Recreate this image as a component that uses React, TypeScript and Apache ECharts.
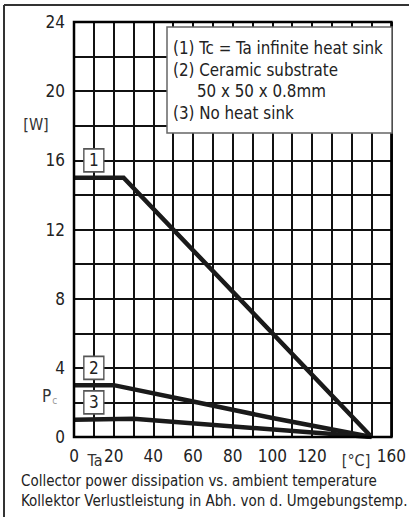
import React, { useEffect, useRef } from "react";
import * as echarts from "echarts";

// ---- data ----
const xTicks = [0, 20, 40, 60, 80, 100, 120, 160];
const yTicks = [0, 4, 8, 12, 16, 20, 24];
const curve1T = [0, 25, 150];
const curve1P = [15, 15, 0];
const curve2T = [0, 20, 60, 100, 150];
const curve2P = [3, 3, 2.05, 1.1, 0];
const curve3T = [0, 30, 150];
const curve3P = [1.0, 1.05, 0];
const markerNames = ["1", "2", "3"];
const markerT = [10, 10, 10];
const markerP = [16, 4, 2];
const legendLines = [
  "(1) Tc = Ta infinite heat sink",
  "(2) Ceramic substrate",
  "     50 x 50 x 0.8mm",
  "(3) No heat sink",
];
const captionLines = [
  "Collector power dissipation vs. ambient temperature",
  "Kollektor Verlustleistung in Abh. von d. Umgebungstemp.",
];

const FONT = '"DejaVu Sans Condensed", "DejaVu Sans", sans-serif';
const INK = "#111111";

function pairs(xs: number[], ys: number[]) {
  return xs.map((x, i) => [x, ys[i]]);
}

export default function App() {
  const ref = useRef<HTMLDivElement>(null);
  useEffect(() => {
    if (!ref.current) return;
    const chart = echarts.init(ref.current, undefined, { renderer: "svg" });
    const lineSeries = (d: number[][]) => ({
      type: "line",
      data: d,
      showSymbol: false,
      symbol: "none",
      lineStyle: { color: "#1a1a1a", width: 4.5, join: "miter" },
      z: 3,
    });
    chart.setOption({
      animation: false,
      backgroundColor: "#ffffff",
      textStyle: { fontFamily: FONT },
      grid: {
        left: 74,
        right: 12,
        top: 22,
        bottom: 80,
        show: true,
        borderColor: "#000",
        borderWidth: 2.5,
        backgroundColor: "transparent",
        z: 4,
      },
      xAxis: {
        type: "value",
        min: 0,
        max: 160,
        interval: 10,
        axisLine: { show: false },
        axisTick: { show: false },
        splitLine: { show: true, lineStyle: { color: INK, width: 2 } },
        axisLabel: {
          margin: 10,
          fontSize: 17,
          color: "#222",
          fontFamily: FONT,
          formatter: (v: number) => (xTicks.includes(v) ? String(v) : ""),
        },
      },
      yAxis: {
        type: "value",
        min: 0,
        max: 24,
        interval: 2,
        axisLine: { show: false },
        axisTick: { show: false },
        splitLine: { show: true, lineStyle: { color: INK, width: 2 } },
        axisLabel: {
          margin: 9,
          fontSize: 17,
          color: "#222",
          fontFamily: FONT,
          formatter: (v: number) => (yTicks.includes(v) ? String(v) : ""),
        },
      },
      series: [
        lineSeries(pairs(curve1T, curve1P)),
        lineSeries(pairs(curve2T, curve2P)),
        lineSeries(pairs(curve3T, curve3P)),
        {
          type: "scatter",
          data: markerNames.map((n, i) => ({ name: n, value: [markerT[i], markerP[i]] })),
          symbol: "rect",
          symbolSize: [20, 23],
          itemStyle: { color: "#fff", borderColor: "#555", borderWidth: 1.5, opacity: 1 },
          label: {
            show: true,
            position: "inside",
            formatter: (p: any) => p.name,
            fontSize: 17,
            color: "#222",
            fontFamily: FONT,
          },
          z: 6,
        },
      ],
      graphic: [
        // outer frame (top & left)
        { type: "line", z: 100, shape: { x1: 4, y1: 5, x2: 409, y2: 5 }, style: { stroke: "#333", lineWidth: 2 } },
        { type: "line", z: 100, shape: { x1: 4, y1: 5, x2: 4, y2: 517 }, style: { stroke: "#333", lineWidth: 2 } },
        // legend box
        {
          type: "rect",
          z: 100,
          shape: { x: 167, y: 27, width: 225, height: 106 },
          style: { fill: "#fff", stroke: "#666", lineWidth: 1.5 },
        },
        ...legendLines.map((t, i) => ({
          type: "text",
          z: 101,
          x: 173,
          y: 48 + i * 21.7,
          style: {
            text: t,
            fontSize: 16.8,
            fontFamily: FONT,
            fill: "#222",
            verticalAlign: "middle",
          },
        })),
        // axis unit labels
        {
          type: "text",
          z: 100,
          x: 36,
          y: 124,
          style: { text: "[W]", fontSize: 16, fontFamily: FONT, fill: "#333", align: "center", verticalAlign: "middle" },
        },
        {
          type: "text",
          z: 100,
          x: 42,
          y: 396,
          style: {
            text: "{p|P}{c|c}",
            fontFamily: FONT,
            verticalAlign: "middle",
            rich: {
              p: { fontSize: 17, fill: "#333", fontFamily: FONT },
              c: { fontSize: 10, fill: "#999", fontFamily: FONT, padding: [8, 0, 0, 1] },
            },
          },
        },
        {
          type: "text",
          z: 100,
          x: 95,
          y: 460,
          style: { text: "Ta", fontSize: 16, fontFamily: FONT, fill: "#333", align: "center", verticalAlign: "middle" },
        },
        {
          type: "text",
          z: 100,
          x: 356,
          y: 460,
          style: { text: "[°C]", fontSize: 16, fontFamily: FONT, fill: "#333", align: "center", verticalAlign: "middle" },
        },
        // captions
        ...captionLines.map((t, i) => ({
          type: "text",
          z: 100,
          x: 21,
          y: 481 + i * 20,
          style: { text: t, fontSize: 15, fontFamily: FONT, fill: "#222", verticalAlign: "middle" },
        })),
      ],
    });
    return () => chart.dispose();
  }, []);
  return (
    <div
      ref={ref}
      style={{ position: "fixed", left: 0, top: 0, width: 409, height: 517, background: "#fff" }}
    />
  );
}
